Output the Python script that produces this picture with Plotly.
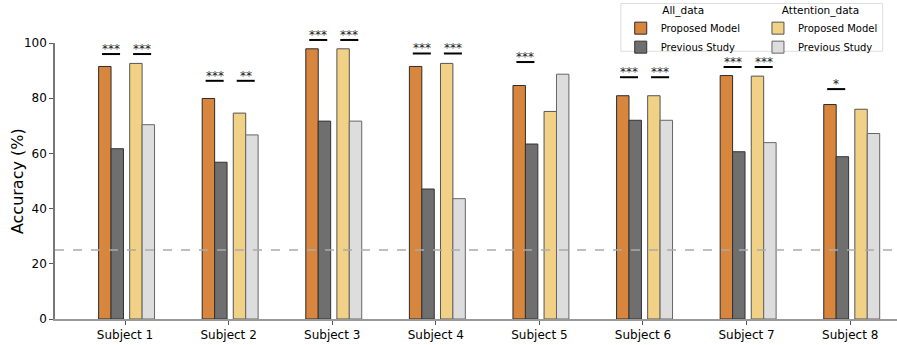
import plotly.graph_objects as go

# ---- data ----
subjects = ["Subject 1", "Subject 2", "Subject 3", "Subject 4",
            "Subject 5", "Subject 6", "Subject 7", "Subject 8"]

all_proposed = [91.5, 79.9, 97.9, 91.5, 84.6, 80.9, 88.2, 77.7]
all_previous = [61.7, 56.8, 71.7, 47.1, 63.4, 72.0, 60.6, 58.8]
att_proposed = [92.6, 74.6, 97.9, 92.6, 75.2, 80.9, 88.0, 76.0]
att_previous = [70.4, 66.7, 71.7, 43.6, 88.7, 72.0, 63.9, 67.2]

# significance markers (All_data pair, Attention_data pair) and bracket level
sig_all = ["***", "***", "***", "***", "***", "***", "***", "*"]
sig_att = ["***", "**", "***", "***", "", "***", "***", ""]
sig_level = [96.0, 86.3, 101.1, 96.2, 93.1, 87.6, 91.3, 83.3]

chance_level = 25
y_ticks = [0, 20, 40, 60, 80, 100]

FONT = "DejaVu Sans"
BAR_W = 0.12

# (values, name, fill, edge, offset, legend)
series = [
    (all_proposed, "Proposed Model", "#D8863D", "#2b2b2b", -0.255, "legend"),
    (all_previous, "Previous Study", "#6F6F6F", "#333333", -0.135, "legend"),
    (att_proposed, "Proposed Model", "#F0D185", "#555555", 0.045, "legend2"),
    (att_previous, "Previous Study", "#DDDDDD", "#666666", 0.165, "legend2"),
]

fig = go.Figure()
for vals, name, fill, edge, off, leg in series:
    fig.add_trace(go.Bar(
        x=subjects, y=vals, name=name, width=BAR_W, offset=off,
        marker=dict(color=fill, line=dict(color=edge, width=1)),
        legend=leg,
    ))

# significance brackets + stars
shapes = []
annotations = []
pair_centers = [(-0.135, sig_all), (0.165, sig_att)]
for i, lvl in enumerate(sig_level):
    for c, sigs in pair_centers:
        s = sigs[i]
        if not s:
            continue
        shapes.append(dict(type="line", xref="x", yref="y domain",
                           x0=i + c - 0.087, x1=i + c + 0.087,
                           y0=lvl / 100, y1=lvl / 100,
                           line=dict(color="black", width=2)))
        annotations.append(dict(x=i + c, y=lvl / 100, xref="x", yref="y domain",
                                text=s, showarrow=False, yanchor="bottom",
                                yshift=-4, font=dict(family=FONT, size=12, color="#222222")))

# y-axis title placed as a rotated annotation
annotations.append(dict(x=-0.045, y=0.5, xref="paper", yref="paper", text="Accuracy (%)",
                        textangle=-90, showarrow=False, xanchor="center", yanchor="middle",
                        font=dict(family=FONT, size=16, color="black")))

# chance level
shapes.append(dict(type="line", xref="paper", yref="y", x0=0, x1=1,
                   y0=chance_level, y1=chance_level,
                   line=dict(color="#AAAAAA", width=1.5, dash="dash")))

# frame around the two legends
shapes.append(dict(type="rect", xref="paper", yref="paper",
                   x0=0.672, x1=0.983, y0=0.970, y1=1.143,
                   line=dict(color="#DDDDDD", width=1), fillcolor="rgba(255,255,255,0.8)",
                   layer="below"))

legend_common = dict(xanchor="left", yanchor="top", xref="container", yref="container",
                     bgcolor="rgba(0,0,0,0)", font=dict(size=10),
                     tracegroupgap=0, itemwidth=30)

fig.update_layout(
    width=897, height=345,
    margin=dict(l=55, r=0, t=43, b=26, autoexpand=False),
    plot_bgcolor="white", paper_bgcolor="white",
    font=dict(family=FONT, size=12, color="black"),
    barmode="overlay",
    shapes=shapes, annotations=annotations,
    legend=dict(title=dict(text="All_data", side="top center", font=dict(size=10.5)),
                x=0.692, y=1.003, **legend_common),
    legend2=dict(title=dict(text="Attention_data", side="top center", font=dict(size=10.5)),
                 x=0.845, y=1.003, **legend_common),
)

fig.update_xaxes(range=[-0.676, 7.452], showline=True, linecolor="#999999", linewidth=2,
                 ticks="outside", ticklen=4, tickcolor="#555555", automargin=False,
                 tickfont=dict(size=12), showgrid=False)
fig.update_yaxes(range=[0, 100], tickvals=y_ticks, showline=True, linecolor="#777777",
                 linewidth=1.5, ticks="outside", ticklen=4, tickcolor="#555555",
                 tickfont=dict(size=12), showgrid=False, zeroline=False, automargin=False)

# drop the browser's default page margin so the figure sits at the window corner
fig.write_html("out.html", config={"displayModeBar": False},
               post_script="document.body.style.margin='0';")
